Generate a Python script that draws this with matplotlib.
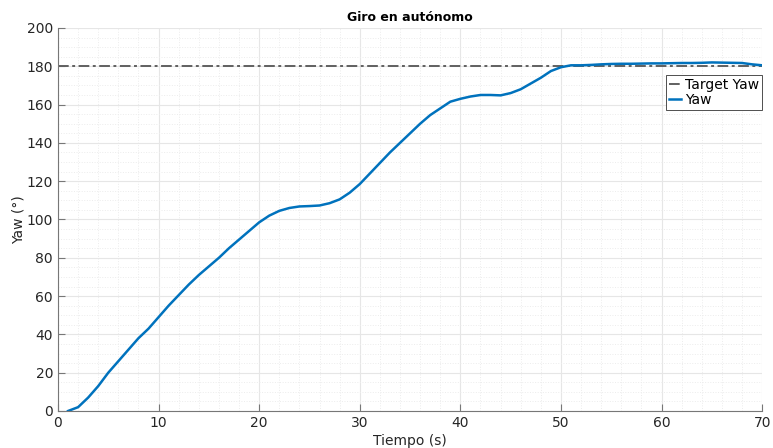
import numpy as np
import matplotlib.pyplot as plt
from matplotlib.ticker import MultipleLocator

# Yaw reading every second
tiempo = list(range(1, 71))
yaw = [0, 2, 7, 13, 20, 26, 32, 38, 43, 49,
       55, 60.5, 66, 71, 75.5, 80, 85, 89.5, 94, 98.5,
       102, 104.5, 106, 106.8, 107, 107.3, 108.5, 110.5, 114, 118.5,
       124, 129.5, 135, 140, 145, 150, 154.5, 158, 161.5, 163,
       164.2, 165, 165, 164.8, 166, 168, 171, 174, 177.5, 179.5,
       180.5, 180.5, 180.7, 181, 181.2, 181.3, 181.3, 181.4, 181.5, 181.5,
       181.6, 181.7, 181.7, 181.8, 182, 181.9, 181.8, 181.7, 181, 180.5]
target_yaw = 180

fig = plt.figure(figsize=(7.73, 4.48), dpi=100)
ax = fig.add_axes([0.075, 0.0826, 0.911, 0.855])

ax.axhline(target_yaw, color='#606060', linestyle=(0, (5.5, 1.8, 1.5, 1.8)),
           linewidth=1.4, label='Target Yaw')
ax.plot(tiempo, yaw, color='#0072BD', linewidth=1.8, label='Yaw')

ax.set_xlim(0, 70)
ax.set_ylim(0, 200)
ax.xaxis.set_major_locator(MultipleLocator(10))
ax.yaxis.set_major_locator(MultipleLocator(20))
ax.xaxis.set_minor_locator(MultipleLocator(2))
ax.yaxis.set_minor_locator(MultipleLocator(5))

ax.grid(which='major', color='#e6e6e6', linewidth=0.8)
ax.grid(which='minor', color='#ececec', linestyle=':', linewidth=0.7)
ax.set_axisbelow(True)

for s in ['top', 'right']:
    ax.spines[s].set_visible(False)
for s in ['left', 'bottom']:
    ax.spines[s].set_color('#777777')

ax.tick_params(which='major', direction='in', length=5, colors='#777777',
               labelcolor='#262626', labelsize=10)
ax.tick_params(which='minor', length=0)

ax.set_xlabel('Tiempo (s)', fontsize=10, color='#262626', labelpad=3)
ax.set_ylabel('Yaw (°)', fontsize=10, color='#262626', labelpad=0.5)
ax.set_title('Giro en autónomo', fontsize=9, fontweight='bold', pad=5)

leg = ax.legend(loc='upper right', bbox_to_anchor=(1.0, 0.877), borderaxespad=0,
                fancybox=False, framealpha=1, edgecolor='#333333', fontsize=10,
                handlelength=0.9, handletextpad=0.3, borderpad=0.2, labelspacing=0.1)
leg.get_frame().set_linewidth(0.6)

plt.savefig('out.png', dpi=100)
